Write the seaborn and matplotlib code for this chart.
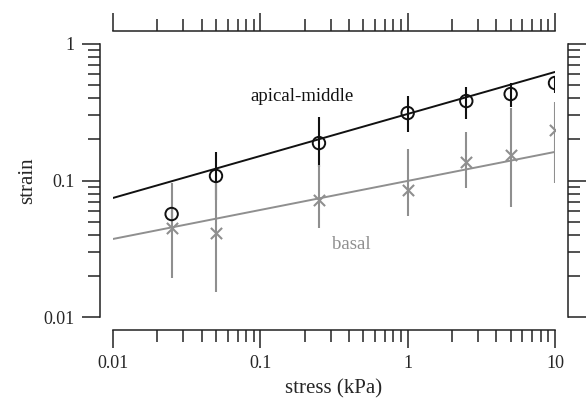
import matplotlib
matplotlib.use("Agg")
import matplotlib.pyplot as plt
import matplotlib.ticker as mticker
import seaborn as sns
import pandas as pd
import numpy as np

# ---- data ----
stress = [0.025, 0.05, 0.25, 1.0, 2.5, 5.0, 10.0]

apical = [0.0568, 0.108, 0.188, 0.312, 0.382, 0.430, 0.518]
apical_lo = [0.052, 0.072, 0.126, 0.227, 0.282, 0.345, 0.438]
apical_hi = [0.062, 0.162, 0.292, 0.416, 0.484, 0.518, 0.573]

basal = [0.0449, 0.0412, 0.0720, 0.0852, 0.1366, 0.1538, 0.2344]
basal_lo = [0.0193, 0.0152, 0.0449, 0.0550, 0.0881, 0.0640, 0.0959]
basal_hi = [0.0959, 0.0975, 0.130, 0.170, 0.2266, 0.340, 0.376]

fit_x = [0.01, 10.0]
apical_fit = [0.0745, 0.624]
basal_fit = [0.0373, 0.162]

x_ticks = [0.01, 0.1, 1, 10]
y_ticks = [0.01, 0.1, 1]

BLACK = "#111111"
GRAY = "#8f8f8f"
DPI = 100

sns.set_style("ticks")
plt.rcParams["font.family"] = ["Liberation Serif", "DejaVu Serif"]
plt.rcParams["font.size"] = 13

fig = plt.figure(figsize=(5.86, 4.03), dpi=DPI)
W, H = 586, 403
ax = fig.add_axes([113 / W, 1 - 317 / H, (555 - 113) / W, (317 - 44) / H])
ax.set_xscale("log")
ax.set_yscale("log")

# fit lines
sns.lineplot(x=fit_x, y=apical_fit, ax=ax, color=BLACK, lw=1.4, legend=False)
sns.lineplot(x=fit_x, y=basal_fit, ax=ax, color=GRAY, lw=1.4, legend=False)

# apical error bars
a = np.array(apical)
ax.errorbar(stress, apical, yerr=[a - np.array(apical_lo), np.array(apical_hi) - a],
            fmt="none", ecolor=BLACK, elinewidth=1.5, capsize=0, zorder=3)
# basal error bars
b = np.array(basal)
ax.errorbar(stress, basal, yerr=[b - np.array(basal_lo), np.array(basal_hi) - b],
            fmt="none", ecolor=GRAY, elinewidth=1.5, capsize=0, zorder=4)

df_a = pd.DataFrame({"stress": stress, "strain": apical})
df_b = pd.DataFrame({"stress": stress, "strain": basal})
sns.scatterplot(data=df_a, x="stress", y="strain", ax=ax, marker="o", s=80,
                facecolor="none", edgecolor=BLACK, linewidth=1.4, zorder=5)
sns.scatterplot(data=df_b, x="stress", y="strain", ax=ax, marker="x", s=65,
                color=GRAY, linewidth=1.5, zorder=5)

ax.set_xlim(0.01, 10)
ax.set_ylim(0.01, 1)

ax.text(0.192, 0.409, "apical-middle", ha="center", va="center", color=BLACK, fontsize=13.5)
ax.text(0.413, 0.0337, "basal", ha="center", va="center", color=GRAY, fontsize=13.5)

ax.set_xlabel("stress (kPa)", fontsize=15, labelpad=5)
ax.set_ylabel("strain", fontsize=15, labelpad=5)

off = 13 * 72 / DPI
for side in ["left", "right", "top", "bottom"]:
    ax.spines[side].set_visible(True)
    ax.spines[side].set_position(("outward", off))
    ax.spines[side].set_color("#222222")
    ax.spines[side].set_linewidth(1.1)

ax.xaxis.set_major_locator(mticker.FixedLocator(x_ticks))
ax.yaxis.set_major_locator(mticker.FixedLocator(y_ticks))
ax.xaxis.set_minor_locator(mticker.LogLocator(base=10, subs=np.arange(2, 10)))
ax.yaxis.set_minor_locator(mticker.LogLocator(base=10, subs=np.arange(2, 10)))
fmt = mticker.FuncFormatter(lambda v, p: "%g" % v)
ax.xaxis.set_major_formatter(fmt)
ax.yaxis.set_major_formatter(fmt)
ax.xaxis.set_minor_formatter(mticker.NullFormatter())
ax.yaxis.set_minor_formatter(mticker.NullFormatter())

ax.tick_params(which="both", direction="out", top=True, right=True,
               labeltop=False, labelright=False, color="#222222", width=1.1)
ax.tick_params(which="major", length=13, pad=5, labelsize=13)
ax.tick_params(which="minor", length=8.5)

fig.savefig("out.png", dpi=DPI)
